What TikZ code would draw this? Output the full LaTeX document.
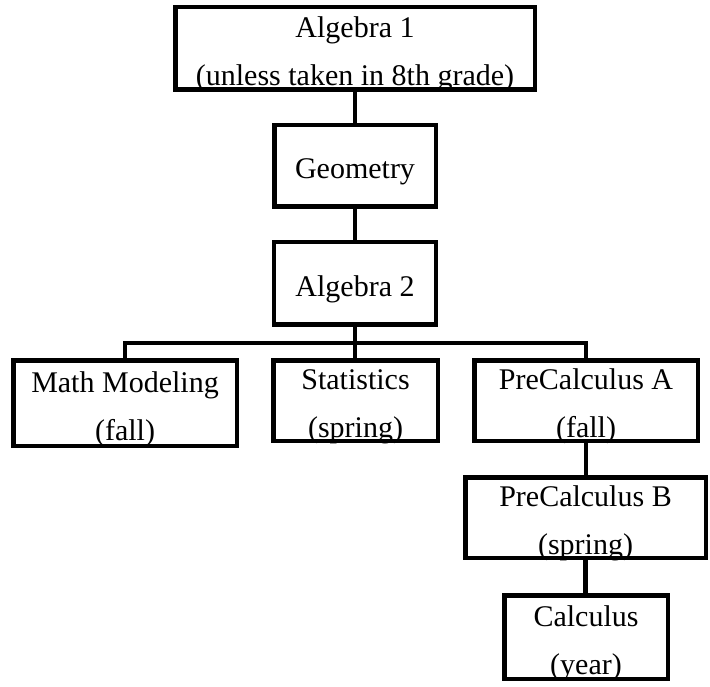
\documentclass[tikz,border=0pt]{standalone}
\usepackage{fontspec}
\setmainfont{Liberation Serif}
\usepackage{tikz}
\usetikzlibrary{positioning}

\begin{document}
\begin{tikzpicture}[
    x=1pt, y=-1pt,
    box/.style={rectangle, draw, line width=4.5pt, inner sep=0pt, align=center, text height=26pt, text depth=0pt, font=\fontsize{30}{48}\selectfont},
    twobox/.style={box, text height=74pt},
    link/.style={line width=4.5pt}
]
    \useasboundingbox (0,0) rectangle (710,687);

    % Nodes
    \node[twobox, minimum width=359.5pt, minimum height=82.5pt] (alg1) at (355,48.5) {Algebra 1\\(unless taken in 8th grade)};
    \node[box, minimum width=161.5pt, minimum height=81.5pt] (geom) at (355,166) {Geometry};
    \node[box, minimum width=162pt, minimum height=82.5pt] (alg2) at (355,283.5) {Algebra 2};
    \node[twobox, minimum width=223.5pt, minimum height=85.5pt] (modeling) at (125,403) {Math Modeling\\(fall)};
    \node[twobox, minimum width=164.5pt, minimum height=80.5pt] (stats) at (355.5,400.5) {Statistics\\(spring)};
    \node[twobox, minimum width=223.5pt, minimum height=80.5pt] (precalcA) at (586,400.5) {PreCalculus A\\(fall)};
    \node[twobox, minimum width=240.5pt, minimum height=80.5pt] (precalcB) at (585.5,517.5) {PreCalculus B\\(spring)};
    \node[twobox, minimum width=163.5pt, minimum height=83.5pt] (calc) at (586,637) {Calculus\\(year)};
    \coordinate (bus) at (355,343);

    % Lines
    \draw[link] (alg1) -- (geom);
    \draw[link] (geom) -- (alg2);
    \draw[link] (alg2.south) -- (alg2.south |- stats.north);
    \draw[link] (modeling.north) |- (precalcA.north |- bus) -- (precalcA.north);
    \draw[link] (precalcA.south) -- (precalcA.south |- precalcB.north);
    \draw[link] (precalcB.south) -- (precalcB.south |- calc.north);

\end{tikzpicture}
\end{document}
